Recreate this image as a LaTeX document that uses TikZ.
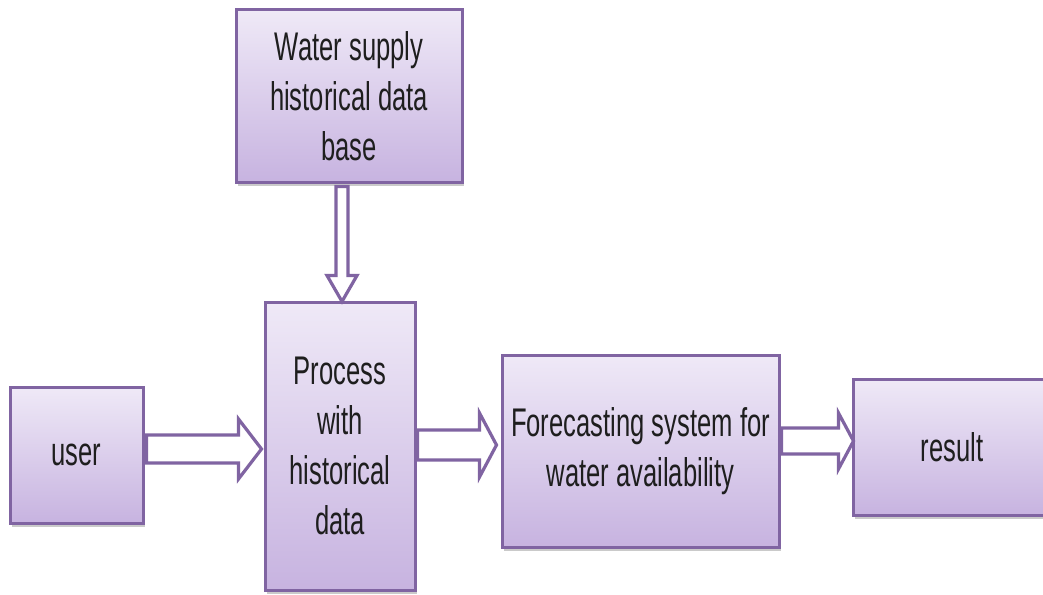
\documentclass[tikz,border=0pt]{standalone}
\usepackage{fontspec}
\setmainfont{Liberation Sans}[FakeStretch=0.64]
\usetikzlibrary{calc,shadows}
\definecolor{boxline}{HTML}{8064A2}
\definecolor{boxtop}{HTML}{EFE9F7}
\definecolor{boxbot}{HTML}{C7B3E0}
\definecolor{txt}{HTML}{1E1E1E}
\tikzset{
  blk/.style={draw=boxline, line width=3pt, top color=boxtop, bottom color=boxbot,
    drop shadow={shadow xshift=1.5pt, shadow yshift=-4pt, opacity=0.35, fill=black!60},
    align=center, text=txt, inner sep=0pt,
    font=\fontsize{40}{50}\selectfont},
  arr/.style={draw=boxline, fill=white, line width=3.2pt, line join=miter}
}
\begin{document}
\begin{tikzpicture}[x=1pt,y=-1pt]
\path[use as bounding box, clip] (0,0) rectangle (1043,594);
\node[blk, minimum width=226pt, minimum height=172pt] (db) at (349,96) {Water supply\\historical data\\base};
\node[blk, minimum width=150pt, minimum height=288pt] (proc) at (340,446) {Process\\with\\historical\\data};
\node[blk, minimum width=133pt, minimum height=136pt] (user) at (76.5,455) {user};
\node[blk, minimum width=277pt, minimum height=192pt] (fore) at (640.5,451) {Forecasting system for\\water availability};
\node[blk, minimum width=198pt, minimum height=136pt] (res) at (952,447) {result};
% vertical arrow db -> proc
\coordinate (v1) at ($(db.south)+(-7,3)$);
\draw[arr] ($(v1)+(-6,0)$) -- ($(v1)+(-6,89)$) -- ($(v1)+(-15,89)$) -- ($(v1)+(0,115)$) -- ($(v1)+(15,89)$) -- ($(v1)+(6,89)$) -- ($(v1)+(6,0)$) -- cycle;
% user -> proc
\coordinate (h1s) at ($(user.east|-0,449)+(2,0)$);
\coordinate (h1e) at ($(proc.west|-0,449)+(-2,0)$);
\draw[arr] ($(h1s)+(0,-14)$) -- ($(h1e)+(-23,-14)$) -- ($(h1e)+(-23,-30)$) -- (h1e) -- ($(h1e)+(-23,30)$) -- ($(h1e)+(-23,14)$) -- ($(h1s)+(0,14)$) -- cycle;
% proc -> fore
\coordinate (h2s) at ($(proc.east|-0,445)+(1,0)$);
\coordinate (h2e) at ($(fore.west|-0,445)+(-4,0)$);
\draw[arr] ($(h2s)+(0,-15)$) -- ($(h2e)+(-17,-15)$) -- ($(h2e)+(-17,-32)$) -- (h2e) -- ($(h2e)+(-17,32)$) -- ($(h2e)+(-17,15)$) -- ($(h2s)+(0,15)$) -- cycle;
% fore -> result
\coordinate (h3s) at ($(fore.east|-0,441)+(1,0)$);
\coordinate (h3e) at ($(res.west|-0,441)+(2,0)$);
\draw[arr] ($(h3s)+(0,-13)$) -- ($(h3e)+(-15,-13)$) -- ($(h3e)+(-15,-28)$) -- (h3e) -- ($(h3e)+(-15,28)$) -- ($(h3e)+(-15,13)$) -- ($(h3s)+(0,13)$) -- cycle;
\end{tikzpicture}
\end{document}
